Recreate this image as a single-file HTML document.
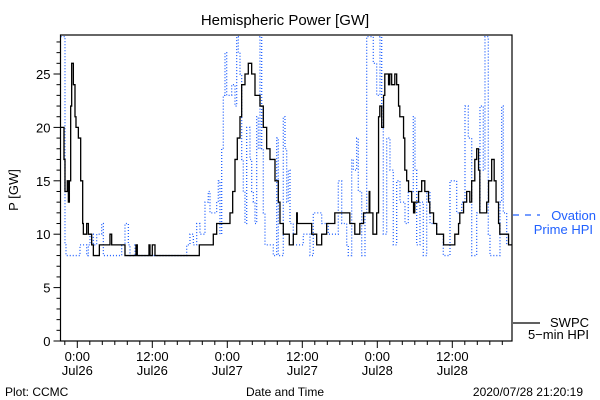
<!DOCTYPE html>
<html><head><meta charset="utf-8"><style>
body{margin:0;background:#fff}
svg{display:block;font-family:"Liberation Sans",sans-serif}
</style></head><body>
<svg id="chart" width="600" height="400" viewBox="0 0 600 400">
<rect width="600" height="400" fill="#fff"/>
<text x="285" y="25" font-size="15" text-anchor="middle">Hemispheric Power [GW]</text>
<text x="18" y="190" font-size="13" text-anchor="middle" transform="rotate(-90 18 190)">P [GW]</text>
<text x="5" y="396" font-size="12">Plot: CCMC</text>
<text x="285" y="396" font-size="12" text-anchor="middle">Date and Time</text>
<text x="583" y="396" font-size="12" text-anchor="end">2020/07/28 21:20:19</text>
<g id="axes"></g>
<defs><clipPath id="pc"><rect x="60.5" y="35" width="451.5" height="306"/></clipPath></defs>
<g id="series" clip-path="url(#pc)"></g>
<rect x="60.5" y="35" width="451.5" height="306" fill="none" stroke="#000" stroke-width="1.2"/>
<g>
<line x1="513" y1="215" x2="540" y2="215" stroke="#2060ff" stroke-width="1.2" stroke-dasharray="6,6"/>
<text x="596" y="220" font-size="13" fill="#2060ff" text-anchor="end">Ovation</text>
<text x="593" y="234" font-size="13" fill="#2060ff" text-anchor="end">Prime HPI</text>
</g>
<g>
<line x1="513" y1="323" x2="540" y2="323" stroke="#000" stroke-width="1.2"/>
<text x="589" y="327" font-size="13" text-anchor="end">SWPC</text>
<text x="589" y="339" font-size="13" text-anchor="end">5&#8722;min HPI</text>
</g>
</svg>
<script>
// hours since 2020-07-26 00:00
const swpcTimes=[-2.66,-2.13,-1.97,-1.6,-1.43,-1.27,-1.06,-0.9,-0.63,-0.37,-0.21,0.17,0.54,0.86,0.97,1.5,1.77,2.3,2.57,3.53,5.23,5.5,7.63,9.39,9.6,11.47,11.63,12.0,12.43,19.52,21.76,22.3,24.43,24.86,25.23,25.6,26.03,26.3,26.83,27.36,27.9,28.43,29.23,29.76,30.3,30.83,31.63,32.16,32.43,32.96,33.92,34.56,35.1,35.2,37.5,38.3,39.1,39.9,41.2,43.6,44.4,45.2,45.8,46.7,46.8,47.3,47.9,48.2,48.4,48.7,49.0,49.2,49.8,50.0,50.3,50.8,51.1,51.4,51.6,52.2,52.4,52.7,53.0,53.5,53.8,54.0,54.6,55.1,55.6,56.2,56.4,57.0,57.5,58.6,60.4,61.0,61.2,61.8,62.3,62.8,63.1,63.6,63.9,64.2,64.4,65.5,65.8,66.3,66.7,67.0,67.4,67.6,69.0];
const swpcValues=[20,17,14,15,13,15,22,26,24,21,20,19,15,11,10,11,10,9,8,9,10,9,8,9,8,9,8,9,8,9,10,11,12,14,17,19,21,24,25,26,25,23,22,20,18,17,15,13,11,10,9,10,12,11,10,9,10,11,12,11,10,11,12,14,12,10,12,21,22,20,23,25,24,25,24,25,24,22,21,19,16,15,14,13,12,13,14,15,14,13,12,11,10,9,10,11,12,13,14,13,15,17,18,16,12,13,15,17,15,13,11,10,9];
const ovTimes=[-2.66,-1.97,-1.81,0.43,1.5,1.77,2.03,2.57,3.1,3.9,4.17,7.1,7.63,8.17,8.43,9.23,9.5,17.5,18.03,18.57,19.1,19.63,20.43,20.96,21.23,22.3,22.56,22.83,23.1,23.36,23.63,23.9,24.7,25.23,25.5,25.76,26.03,26.3,26.56,26.83,27.1,27.63,27.9,28.17,28.43,28.7,28.96,29.23,29.5,29.76,30.03,31.36,31.9,32.16,32.96,33.23,33.5,33.76,34.03,34.56,36.16,37.23,37.76,39.1,40.16,41.76,42.3,43.1,43.36,43.9,44.16,44.7,44.96,45.5,46.03,46.3,47.36,47.9,48.43,48.7,48.96,49.5,50.03,50.56,51.1,51.63,52.43,52.96,53.76,54.03,54.3,54.83,55.36,55.9,56.43,57.5,58.56,59.63,60.7,61.5,62.03,62.56,63.1,63.9,64.43,64.96,65.23,65.76,66.03,66.83,67.63,67.9,68.16,68.7];
const ovValues=[28.5,9,8,9,8,9,10,9,10,11,8,9,11,9,8,9,8,9,10,9,11,10,13,14,12,13,15,10,18,23,27,23,24,22,28.5,27,25,17,14,11,20,17,14,13,11,21,18,28.5,18,12,9,8,19,8,21,18,13,16,11,9,10,8,12,11,10,15,11,9,8,17,16,19,14,8,12,28.5,26,23,28.5,22,10,19,16,9,15,13,11,14,21,16,9,13,8,14,11,10,8,15,12,13,22,19,8,12,22,16,28.5,10,8,8,13,22,12,9];
const yTicks=[0,5,10,15,20,25];
const xMajor=[0,12,24,36,48,60];
const xLabels=[["0:00","Jul26"],["12:00","Jul26"],["0:00","Jul27"],["12:00","Jul27"],["0:00","Jul28"],["12:00","Jul28"]];
const NS="http://www.w3.org/2000/svg";
const X0=60.5,X1=512,Y0=341,Y1=35;
const xs=t=>77.3+t*6.25;
const ys=v=>341-v*10.68;
const axes=document.getElementById('axes');
const series=document.getElementById('series');
function mk(tag,attrs,parent){const e=document.createElementNS(NS,tag);for(const k in attrs)e.setAttribute(k,attrs[k]);parent.appendChild(e);return e;}
// y ticks
for(let v=0;v<=28;v++){
  const l=mk('line',{x1:X0-(v%5===0?7:4),x2:X0,y1:ys(v),y2:ys(v),stroke:'#000','stroke-width':1},axes);
  
  
}
yTicks.forEach(v=>{
  const t=mk('text',{x:X0-10,y:ys(v)+5,'font-size':13,'text-anchor':'end'},axes);
  t.textContent=v;
  
  
});
// x ticks every 2h
for(let h=-2;h<=69;h+=2){
  const maj=(h%12===0);
  const l=mk('line',{x1:xs(h),x2:xs(h),y1:Y0,y2:Y0+(maj?7:4),stroke:'#000','stroke-width':1},axes);
  
  
}
xMajor.forEach((h,i)=>{
  const a=mk('text',{x:xs(h),y:361,'font-size':13,'text-anchor':'middle'},axes);
  a.textContent=xLabels[i][0];
  
  
  const b=mk('text',{x:xs(h),y:375,'font-size':13,'text-anchor':'middle'},axes);
  b.textContent=xLabels[i][1];
  
  
});
function stepPath(ts,vs,tEnd){
  let d='M'+xs(ts[0])+' '+ys(vs[0]);
  for(let i=1;i<ts.length;i++){d+=' H'+xs(ts[i])+' V'+ys(vs[i]);}
  d+=' H'+xs(tEnd);
  return d;
}
const ov=mk('path',{d:stepPath(ovTimes,ovValues,70),fill:'none',stroke:'#2060ff','stroke-width':1.3,'stroke-dasharray':'1,2'},series);


const sw=mk('path',{d:stepPath(swpcTimes,swpcValues,70),fill:'none',stroke:'#000','stroke-width':1.3},series);


</script>
</body></html>
